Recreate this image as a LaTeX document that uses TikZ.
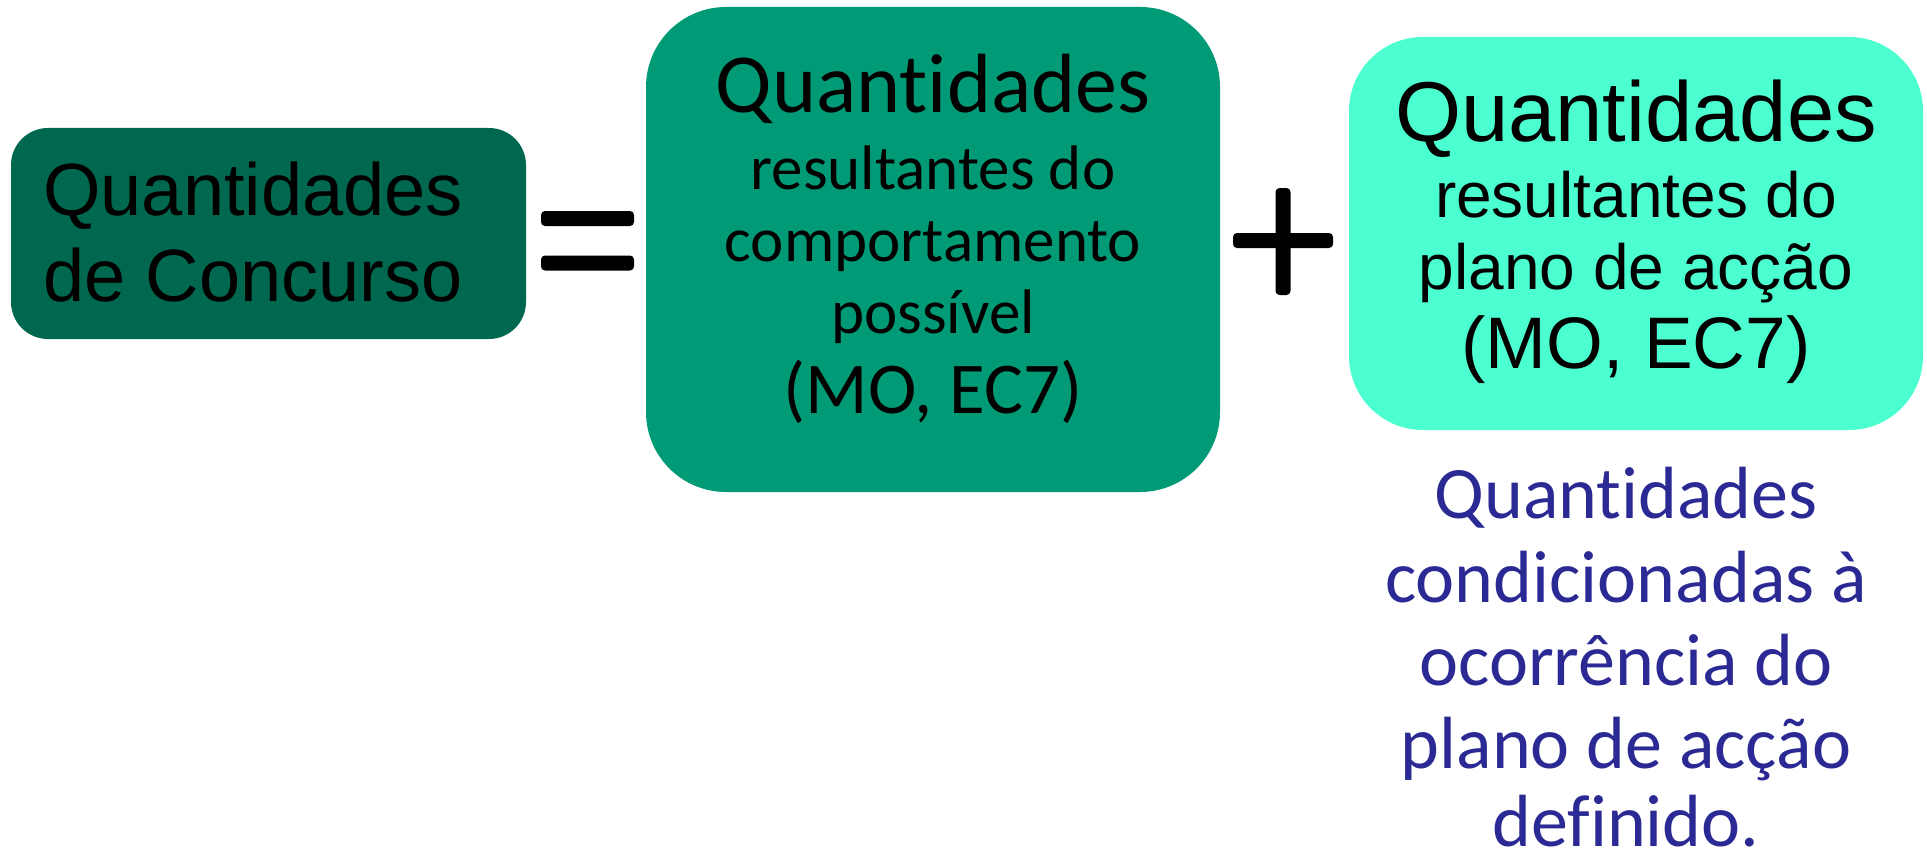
\documentclass[tikz,border=0pt]{standalone}
\usepackage{fontspec}
\newfontfamily\arialf{Liberation Sans}
\newfontfamily\calibrif[RawFeature={-liga;-clig;-calt;-dlig}]{Carlito}
\definecolor{cA}{RGB}{0,104,78}
\definecolor{cB}{RGB}{0,155,118}
\definecolor{cC}{RGB}{76,255,208}
\definecolor{cBlue}{RGB}{43,42,148}
\tikzset{
  boxn/.style={draw=none, inner sep=0pt, outer sep=0pt},
  barn/.style={fill=black, draw=none, inner sep=0pt, outer sep=0pt, rounded corners=4pt},
  txt/.style={inner sep=0pt, outer sep=0pt, anchor=base},
}
\newcommand{\fsz}[1]{\fontsize{#1}{#1}\selectfont}
\newcommand{\nl}{\kern0pt{}}
\begin{document}
\begin{tikzpicture}[x=1pt,y=-1pt]
\useasboundingbox (0,0) rectangle (1927,856);
% boxes
\node[boxn, fill=cA, minimum width=515pt, minimum height=211pt, rounded corners=37pt] (b1) at (268.5,233.5) {};
\node[boxn, fill=cB, minimum width=574pt, minimum height=485pt, rounded corners=80pt] (b2) at (933,249.5) {};
\node[boxn, fill=cC, minimum width=574pt, minimum height=393pt, rounded corners=74pt] (b3) at (1636,233.5) {};
% equals
\node[barn, minimum width=93pt, minimum height=15pt] (eq1) at (587.5,218.5) {};
\node[barn, minimum width=93pt, minimum height=15pt] (eq2) at (587.5,263) {};
% plus
\node[barn, minimum width=100pt, minimum height=15pt] (plh) at (1283,240.5) {};
\node[barn, minimum width=15pt, minimum height=107pt] (plv) at (1283,241.5) {};
% box 1 text
\node[txt, font=\arialf\fsz{74}] (t1a) at (253,215) {Quantidades};
\node[txt, font=\arialf\fsz{74}] (t1b) at (253,301) {de Concurso};
% box 2 text
\node[txt, font=\calibrif\fsz{84}] (t2a) at (933,113) {Quant\nl idades};
\node[txt, font=\calibrif\fsz{63}] (t2b) at (933,189) {resultantes do};
\node[txt, font=\calibrif\fsz{63}] (t2c) at (933,261) {comportamento};
\node[txt, font=\calibrif\fsz{63}] (t2d) at (933,333) {possível};
\node[txt, font=\calibrif\fsz{73}] (t2e) at (933,413) {(MO, EC7)};
% box 3 text
\node[txt, font=\arialf\fsz{85}] (t3a) at (1636,142) {Quantidades};
\node[txt, font=\arialf\fsz{64}] (t3b) at (1636,217) {resultantes do};
\node[txt, font=\arialf\fsz{64}] (t3c) at (1636,289) {plano de acção};
\node[txt, font=\arialf\fsz{73}] (t3d) at (1636,368) {(MO, EC7)};
% blue note
\node[txt, font=\calibrif\fsz{74}, text=cBlue] (n1) at (1626,518) {Quant\nl idades};
\node[txt, font=\calibrif\fsz{74}, text=cBlue] (n2) at (1626,602) {condicionadas à};
\node[txt, font=\calibrif\fsz{74}, text=cBlue] (n3) at (1626,685) {ocorrência do};
\node[txt, font=\calibrif\fsz{74}, text=cBlue] (n4) at (1626,768) {plano de acção};
\node[txt, font=\calibrif\fsz{74}, text=cBlue] (n5) at (1626,846) {def\nl inido.};
\end{tikzpicture}
\end{document}
